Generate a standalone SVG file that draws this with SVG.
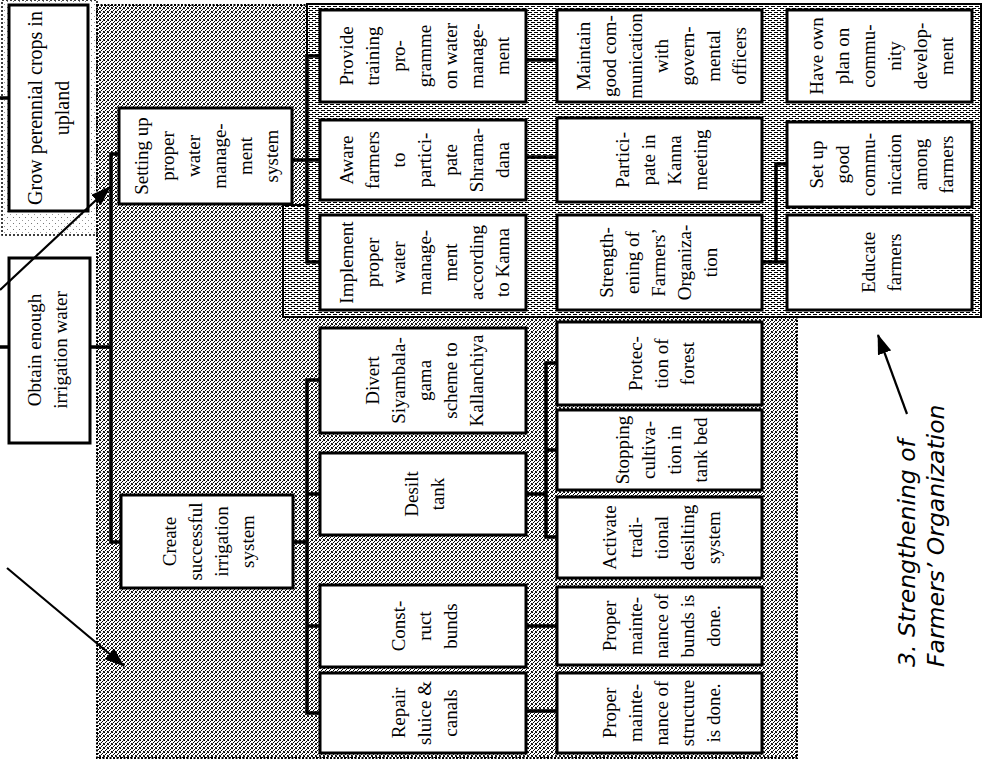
<svg xmlns="http://www.w3.org/2000/svg" width="982" height="762" viewBox="0 0 982 762">
<defs>
<style>
.box{fill:#fff;stroke:#000;stroke-width:3}
.t{font-family:"Liberation Serif","DejaVu Serif",serif;font-size:19px;fill:#000;text-anchor:middle}
.ta{font-size:20px}
.con{stroke:#000;stroke-width:3.5;fill:none;stroke-linecap:square}
.arr{stroke:#000;stroke-width:2.2;fill:none}
.lbl{font-family:"DejaVu Sans","Liberation Sans",sans-serif;font-style:italic;font-size:23.5px;fill:#000}
</style>
<pattern id="dots" width="4" height="4" patternUnits="userSpaceOnUse">
<rect width="4" height="4" fill="#fff"/>
<rect x="0" y="0" width="1" height="1" fill="#000"/>
<rect x="2" y="1" width="1" height="1" fill="#000"/>
<rect x="1" y="2" width="1" height="1" fill="#000"/>
<rect x="3" y="3" width="1" height="1" fill="#000"/>
<rect x="3" y="0" width="1" height="1" fill="#333"/>
<rect x="0" y="3" width="1" height="1" fill="#444"/>
</pattern>
<pattern id="hatch" width="6" height="4" patternUnits="userSpaceOnUse">
<rect width="6" height="4" fill="#fff"/>
<rect x="0" y="0" width="4" height="1" fill="#000"/>
<rect x="3" y="2" width="3" height="1" fill="#000"/>
<rect x="0" y="2" width="1" height="1" fill="#000"/>
</pattern>
<pattern id="sparse" width="6" height="6" patternUnits="userSpaceOnUse">
<rect width="6" height="6" fill="#fff"/>
<rect x="1" y="1" width="1" height="1" fill="#777"/>
<rect x="4" y="4" width="1" height="1" fill="#999"/>
</pattern>
<marker id="ah" viewBox="0 0 20 14" refX="19" refY="7" markerWidth="20" markerHeight="14" markerUnits="userSpaceOnUse" orient="auto"><path d="M0,0 L20,7 L0,14 z" fill="#000"/></marker>
</defs>
<rect width="982" height="762" fill="#fff"/>
<g id="regions">
<rect x="2" y="0" width="95" height="235" fill="url(#sparse)" stroke="#000" stroke-width="1.5" stroke-dasharray="2 2"/>
<rect x="97" y="5" width="700" height="753" fill="url(#dots)" stroke="#000" stroke-width="2" stroke-dasharray="2 1.5"/>
<path d="M307,4 H981 V317 H283 V205 H307 Z" fill="url(#hatch)" stroke="#000" stroke-width="2"/>
</g>
<g id="connectors">
<path class="con" d="M0,98 H9 M0,347 H9 M90,347 H111 M111,154 V542 M111,154 H119 M111,542 H121"/>
<path class="con" d="M307,56 V262 M307,56 H320 M292,160 H320 M307,262 H320"/>
<path class="con" d="M293,542 H307 M307,380 V713 M307,380 H320 M307,494 H320 M307,626 H320 M307,713 H320"/>
<path class="con" d="M526,60 H557 M526,157 H557 M526,494 H546 M546,363 V537 M546,363 H557 M546,450 H557 M546,537 H557 M526,626 H557 M526,711 H557"/>
<path class="con" d="M762,262 H787 M776,164 V262 M776,164 H787"/>
</g>
<g id="n-grow"><rect class="box" x="9" y="5" width="79" height="206"/>
<text class="t ta" transform="translate(0,108) rotate(-90)"><tspan x="0" y="42">Grow perennial crops in</tspan><tspan x="0" y="69">upland</tspan></text></g>
<g id="n-obtain"><rect class="box" x="9" y="258" width="81" height="185"/>
<text class="t" transform="translate(0,350) rotate(-90)"><tspan x="0" y="41">Obtain enough</tspan><tspan x="0" y="67">irrigation water</tspan></text></g>
<g id="n-setting"><rect class="box" x="119" y="108" width="173" height="96"/>
<text class="t" transform="translate(0,156) rotate(-90)"><tspan x="0" y="148">Setting up</tspan><tspan x="0" y="174">proper</tspan><tspan x="0" y="200">water</tspan><tspan x="0" y="226">manage-</tspan><tspan x="0" y="252">ment</tspan><tspan x="0" y="278">system</tspan></text></g>
<g id="n-create"><rect class="box" x="121" y="495" width="172" height="93"/>
<text class="t" transform="translate(0,541.5) rotate(-90)"><tspan x="0" y="176">Create</tspan><tspan x="0" y="202">successful</tspan><tspan x="0" y="228">irrigation</tspan><tspan x="0" y="254">system</tspan></text></g>
<g id="n-provide"><rect class="box" x="320" y="10" width="206" height="92"/>
<text class="t" transform="translate(0,56) rotate(-90)"><tspan x="0" y="353">Provide</tspan><tspan x="0" y="379">training</tspan><tspan x="0" y="405">pro-</tspan><tspan x="0" y="431">gramme</tspan><tspan x="0" y="457">on water</tspan><tspan x="0" y="483">manage-</tspan><tspan x="0" y="509">ment</tspan></text></g>
<g id="n-aware"><rect class="box" x="320" y="120" width="206" height="80"/>
<text class="t" transform="translate(0,160) rotate(-90)"><tspan x="0" y="353">Aware</tspan><tspan x="0" y="379">farmers</tspan><tspan x="0" y="405">to</tspan><tspan x="0" y="431">partici-</tspan><tspan x="0" y="457">pate</tspan><tspan x="0" y="483">Shrama-</tspan><tspan x="0" y="509">dana</tspan></text></g>
<g id="n-implement"><rect class="box" x="320" y="215" width="206" height="95"/>
<text class="t" transform="translate(0,262.5) rotate(-90)"><tspan x="0" y="353">Implement</tspan><tspan x="0" y="379">proper</tspan><tspan x="0" y="405">water</tspan><tspan x="0" y="431">manage-</tspan><tspan x="0" y="457">ment</tspan><tspan x="0" y="483">according</tspan><tspan x="0" y="509">to Kanna</tspan></text></g>
<g id="n-divert"><rect class="box" x="320" y="328" width="206" height="105"/>
<text class="t" transform="translate(0,380.5) rotate(-90)"><tspan x="0" y="379">Divert</tspan><tspan x="0" y="405">Siyambala-</tspan><tspan x="0" y="431">gama</tspan><tspan x="0" y="457">scheme to</tspan><tspan x="0" y="483">Kallanchiya</tspan></text></g>
<g id="n-desilt"><rect class="box" x="320" y="453" width="206" height="82"/>
<text class="t" transform="translate(0,494) rotate(-90)"><tspan x="0" y="418">Desilt</tspan><tspan x="0" y="444">tank</tspan></text></g>
<g id="n-construct"><rect class="box" x="320" y="585" width="206" height="82"/>
<text class="t" transform="translate(0,626) rotate(-90)"><tspan x="0" y="405">Const-</tspan><tspan x="0" y="431">ruct</tspan><tspan x="0" y="457">bunds</tspan></text></g>
<g id="n-repair"><rect class="box" x="320" y="673" width="206" height="80"/>
<text class="t" transform="translate(0,713) rotate(-90)"><tspan x="0" y="405">Repair</tspan><tspan x="0" y="431">sluice &amp;</tspan><tspan x="0" y="457">canals</tspan></text></g>
<g id="n-maintain"><rect class="box" x="557" y="10" width="205" height="92"/>
<text class="t" transform="translate(0,56) rotate(-90)"><tspan x="0" y="589.5">Maintain</tspan><tspan x="0" y="615.5">good com-</tspan><tspan x="0" y="641.5">munication</tspan><tspan x="0" y="667.5">with</tspan><tspan x="0" y="693.5">govern-</tspan><tspan x="0" y="719.5">mental</tspan><tspan x="0" y="745.5">officers</tspan></text></g>
<g id="n-participate"><rect class="box" x="557" y="118" width="205" height="84"/>
<text class="t" transform="translate(0,160) rotate(-90)"><tspan x="0" y="628.5">Partici-</tspan><tspan x="0" y="654.5">pate in</tspan><tspan x="0" y="680.5">Kanna</tspan><tspan x="0" y="706.5">meeting</tspan></text></g>
<g id="n-strength"><rect class="box" x="557" y="215" width="205" height="95"/>
<text class="t" transform="translate(0,262.5) rotate(-90)"><tspan x="0" y="613">Strength-</tspan><tspan x="0" y="639">ening of</tspan><tspan x="0" y="665">Farmers’</tspan><tspan x="0" y="691">Organiza-</tspan><tspan x="0" y="717">tion</tspan></text></g>
<g id="n-protection"><rect class="box" x="557" y="322" width="205" height="83"/>
<text class="t" transform="translate(0,363.5) rotate(-90)"><tspan x="0" y="641.5">Protec-</tspan><tspan x="0" y="667.5">tion of</tspan><tspan x="0" y="693.5">forest</tspan></text></g>
<g id="n-stopping"><rect class="box" x="557" y="410" width="205" height="80"/>
<text class="t" transform="translate(0,450) rotate(-90)"><tspan x="0" y="628.5">Stopping</tspan><tspan x="0" y="654.5">cultiva-</tspan><tspan x="0" y="680.5">tion in</tspan><tspan x="0" y="706.5">tank bed</tspan></text></g>
<g id="n-activate"><rect class="box" x="557" y="497" width="205" height="81"/>
<text class="t" transform="translate(0,537.5) rotate(-90)"><tspan x="0" y="615.5">Activate</tspan><tspan x="0" y="641.5">tradi-</tspan><tspan x="0" y="667.5">tional</tspan><tspan x="0" y="693.5">desilting</tspan><tspan x="0" y="719.5">system</tspan></text></g>
<g id="n-bunds"><rect class="box" x="557" y="587" width="205" height="78"/>
<text class="t" transform="translate(0,626) rotate(-90)"><tspan x="0" y="615.5">Proper</tspan><tspan x="0" y="641.5">mainte-</tspan><tspan x="0" y="667.5">nance of</tspan><tspan x="0" y="693.5">bunds is</tspan><tspan x="0" y="719.5">done.</tspan></text></g>
<g id="n-structure"><rect class="box" x="557" y="673" width="205" height="80"/>
<text class="t" transform="translate(0,713) rotate(-90)"><tspan x="0" y="615.5">Proper</tspan><tspan x="0" y="641.5">mainte-</tspan><tspan x="0" y="667.5">nance of</tspan><tspan x="0" y="693.5">structure</tspan><tspan x="0" y="719.5">is done.</tspan></text></g>
<g id="n-haveown"><rect class="box" x="787" y="10" width="185" height="92"/>
<text class="t" transform="translate(0,56) rotate(-90)"><tspan x="0" y="822.5">Have own</tspan><tspan x="0" y="848.5">plan on</tspan><tspan x="0" y="874.5">commu-</tspan><tspan x="0" y="900.5">nity</tspan><tspan x="0" y="926.5">develop-</tspan><tspan x="0" y="952.5">ment</tspan></text></g>
<g id="n-setupgood"><rect class="box" x="787" y="122" width="185" height="85"/>
<text class="t" transform="translate(0,164.5) rotate(-90)"><tspan x="0" y="822.5">Set up</tspan><tspan x="0" y="848.5">good</tspan><tspan x="0" y="874.5">commu-</tspan><tspan x="0" y="900.5">nication</tspan><tspan x="0" y="926.5">among</tspan><tspan x="0" y="952.5">farmers</tspan></text></g>
<g id="n-educate"><rect class="box" x="787" y="215" width="185" height="95"/>
<text class="t" transform="translate(0,262.5) rotate(-90)"><tspan x="0" y="874.5">Educate</tspan><tspan x="0" y="900.5">farmers</tspan></text></g>
<g id="arrows">
<line class="arr" x1="0" y1="290" x2="110" y2="187" marker-end="url(#ah)"/>
<line class="arr" x1="7" y1="568" x2="124" y2="666" marker-end="url(#ah)"/>
<line class="arr" x1="907" y1="414" x2="878" y2="335" marker-end="url(#ah)"/>
</g>
<g id="label">
<text class="lbl" transform="translate(0,667) rotate(-90)"><tspan x="0" y="915">3. Strengthening of</tspan><tspan x="0" y="944">Farmers’ Organization</tspan></text>
</g>
</svg>
